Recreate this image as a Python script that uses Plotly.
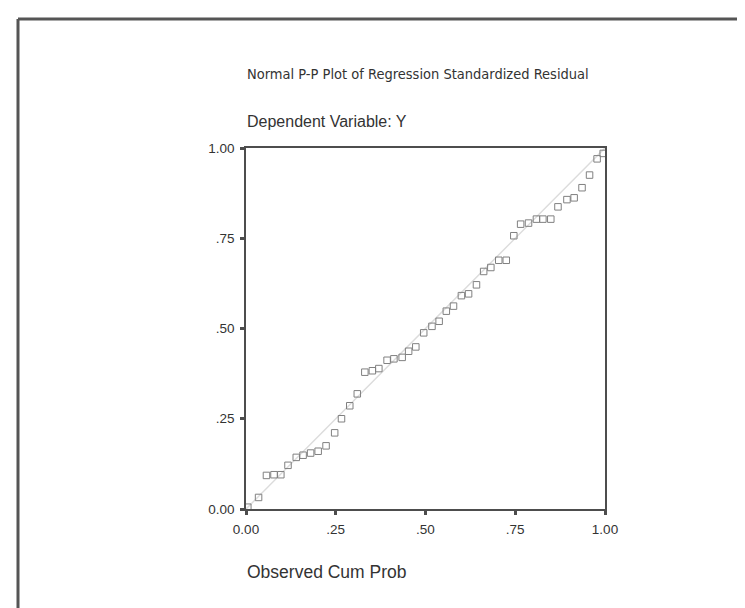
import plotly.graph_objects as go

# Observed cumulative probability (x) and expected cumulative probability (y)
observed_cum_prob = [0.005, 0.035, 0.057, 0.078, 0.097, 0.117, 0.140, 0.159, 0.180, 0.201,
                     0.223, 0.247, 0.266, 0.289, 0.310, 0.331, 0.352, 0.370, 0.393, 0.412,
                     0.435, 0.453, 0.473, 0.495, 0.518, 0.538, 0.558, 0.578, 0.600, 0.620,
                     0.642, 0.662, 0.682, 0.704, 0.725, 0.746, 0.765, 0.787, 0.809, 0.827,
                     0.849, 0.869, 0.894, 0.914, 0.936, 0.957, 0.978, 0.995]
expected_cum_prob = [0.005, 0.032, 0.093, 0.095, 0.095, 0.121, 0.143, 0.149, 0.155, 0.160,
                     0.175, 0.211, 0.250, 0.286, 0.319, 0.379, 0.383, 0.389, 0.412, 0.416,
                     0.420, 0.437, 0.449, 0.488, 0.506, 0.520, 0.548, 0.562, 0.591, 0.596,
                     0.621, 0.658, 0.669, 0.689, 0.689, 0.757, 0.789, 0.792, 0.803, 0.803,
                     0.803, 0.837, 0.857, 0.862, 0.890, 0.925, 0.970, 0.985]

tick_vals = [0, 0.25, 0.5, 0.75, 1.0]
tick_text = ["0.00", ".25", ".50", ".75", "1.00"]

title_text = "Normal P-P Plot of Regression Standardized Residual"
subtitle_text = "Dependent Variable: Y"
x_title = "Observed Cum Prob"

W, H = 745, 608
L, R, T, B = 238, 597, 140, 501  # plot area pixel box


def px(x):
    return (x - L) / (R - L)


def py(y):
    return (B - y) / (B - T)


fig = go.Figure()

# diagonal reference line
fig.add_trace(go.Scatter(x=[0, 1], y=[0, 1], mode="lines",
                         line=dict(color="#dcdcdc", width=1.5),
                         hoverinfo="skip", showlegend=False))

fig.add_trace(go.Scatter(x=observed_cum_prob, y=expected_cum_prob, mode="markers",
                         marker=dict(symbol="square-open", size=6.5, color="#808080",
                                     line=dict(width=1, color="#808080")),
                         showlegend=False))

axis_common = dict(range=[0, 1], tickvals=tick_vals, ticktext=tick_text,
                   showgrid=False, zeroline=False, showline=True, mirror=True,
                   linecolor="#4d4d4d", linewidth=1.5, ticks="outside", ticklen=4,
                   tickwidth=3, tickcolor="#4d4d4d", ticklabelstandoff=3,
                   tickfont=dict(family="Liberation Sans, Arial", size=13.5, color="#333333"))

fig.update_xaxes(**axis_common)
fig.update_yaxes(**axis_common)


def txt_font(size, family="Liberation Sans, Arial"):
    return dict(family=family, size=size, color="#333333")


annotations = [
    dict(text=title_text, x=px(237), y=py(66), xref="paper", yref="paper",
         xanchor="left", yanchor="middle", showarrow=False,
         font=txt_font(14.5, "DejaVu Sans Condensed, Liberation Sans")),
    dict(text=subtitle_text, x=px(237), y=py(113), xref="paper", yref="paper",
         xanchor="left", yanchor="middle", showarrow=False, font=txt_font(16)),
    dict(text=x_title, x=px(237), y=py(564), xref="paper", yref="paper",
         xanchor="left", yanchor="middle", showarrow=False, font=txt_font(17.5)),
]

shapes = [
    # outer frame: dark top and left edges, light bottom edge
    dict(type="line", xref="paper", yref="paper",
         x0=px(10), x1=px(760), y0=py(11), y1=py(11),
         line=dict(color="#555555", width=3)),
    dict(type="line", xref="paper", yref="paper",
         x0=px(10), x1=px(10), y0=py(11), y1=py(606),
         line=dict(color="#555555", width=3)),
    dict(type="line", xref="paper", yref="paper",
         x0=px(10), x1=px(760), y0=py(606), y1=py(606),
         line=dict(color="#c8c8c8", width=2)),
]

fig.update_layout(width=W, height=H,
                  margin=dict(l=L, r=W - R, t=T, b=H - B, pad=0),
                  paper_bgcolor="white", plot_bgcolor="white",
                  annotations=annotations, shapes=shapes, showlegend=False)

fig.write_html("out.html")
